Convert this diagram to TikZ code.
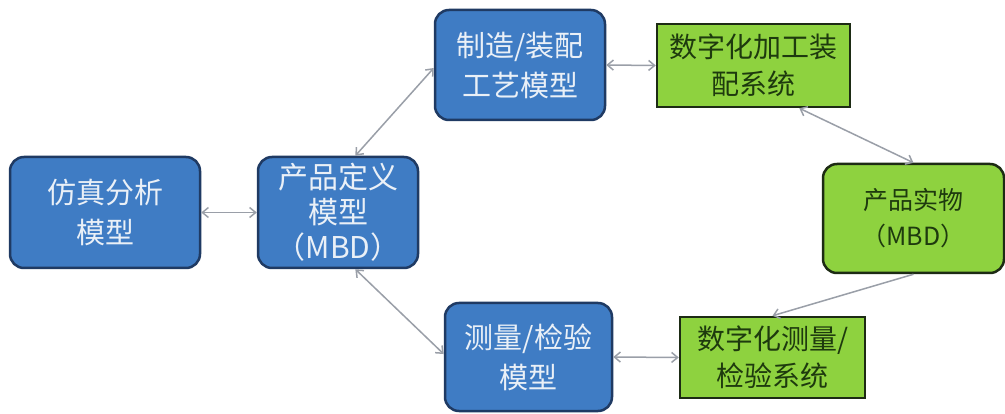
\documentclass[tikz,border=0pt]{standalone}
\usepackage{fontspec}
\setmainfont{Noto Sans CJK SC}
\usetikzlibrary{arrows.meta}
\definecolor{bluefill}{HTML}{3F7CC4}
\definecolor{blueedge}{HTML}{1F3A63}
\definecolor{bluetext}{HTML}{EAF0F7}
\definecolor{greenfill}{HTML}{8ED23F}
\definecolor{greenedge}{HTML}{1D2B14}
\definecolor{greentext}{HTML}{1E3A0E}
\definecolor{arrowgray}{HTML}{9A9FA8}
\tikzset{
  bluebox/.style={draw=blueedge, fill=bluefill, line width=2.5pt, rounded corners=14pt,
    text=bluetext, align=center, inner sep=0pt,
    font=\fontsize{29}{40}\selectfont},
  greenrect/.style={draw=greenedge, fill=greenfill, line width=2.5pt,
    text=greentext, align=center, inner sep=0pt,
    font=\fontsize{28}{37}\selectfont},
  greenround/.style={draw=greenedge, fill=greenfill, line width=2.5pt, rounded corners=14pt,
    text=greentext, align=center, inner sep=0pt,
    font=\fontsize{25}{36}\selectfont},
  link/.style={draw=arrowgray, line width=1.5pt},
  biarrow/.style={link, {Straight Barb[length=6pt,width=10pt]}-{Straight Barb[length=6pt,width=10pt]}},
  onearrow/.style={link, -{Straight Barb[length=6pt,width=10pt]}}
}
\begin{document}
\begin{tikzpicture}[x=1pt,y=-1pt]
\fill[white] (0,0) rectangle (1005,414);
\useasboundingbox (0,0) rectangle (1005,414);
\node[bluebox, minimum width=190pt, minimum height=111pt] (sim) at (105,212.5) {仿真分析\\模型};
\node[bluebox, minimum width=160pt, minimum height=111pt, font=\fontsize{30}{35}\selectfont] (def) at (338,212.5) {产品定义\\模型\\（MBD）};
\node[bluebox, minimum width=170pt, minimum height=110pt] (mfg) at (520,65) {制造/装配\\工艺模型};
\node[greenrect, minimum width=193pt, minimum height=83pt] (dmfg) at (753.5,65.5) {数字化加工装\\配系统};
\node[greenround, minimum width=181pt, minimum height=109pt] (prod) at (913.5,218.5) {产品实物\\（MBD）};
\node[bluebox, minimum width=167pt, minimum height=108pt] (meas) at (528.5,357) {测量/检验\\模型};
\node[greenrect, minimum width=185pt, minimum height=81pt] (dmeas) at (772.5,357.5) {数字化测量/\\检验系统};
\draw[biarrow] (sim.east) -- (def.west);
\draw[biarrow] (def.73) -- (mfg.182);
\draw[biarrow] (def.287) -- (meas.178);
\draw[biarrow] (mfg.east) -- (dmfg.west);
\draw[biarrow] (dmfg.317) -- (prod.north);
\draw[onearrow] (prod.south) -- (dmeas.north);
\draw[biarrow] (meas.east) -- (dmeas.west);
\end{tikzpicture}
\end{document}
